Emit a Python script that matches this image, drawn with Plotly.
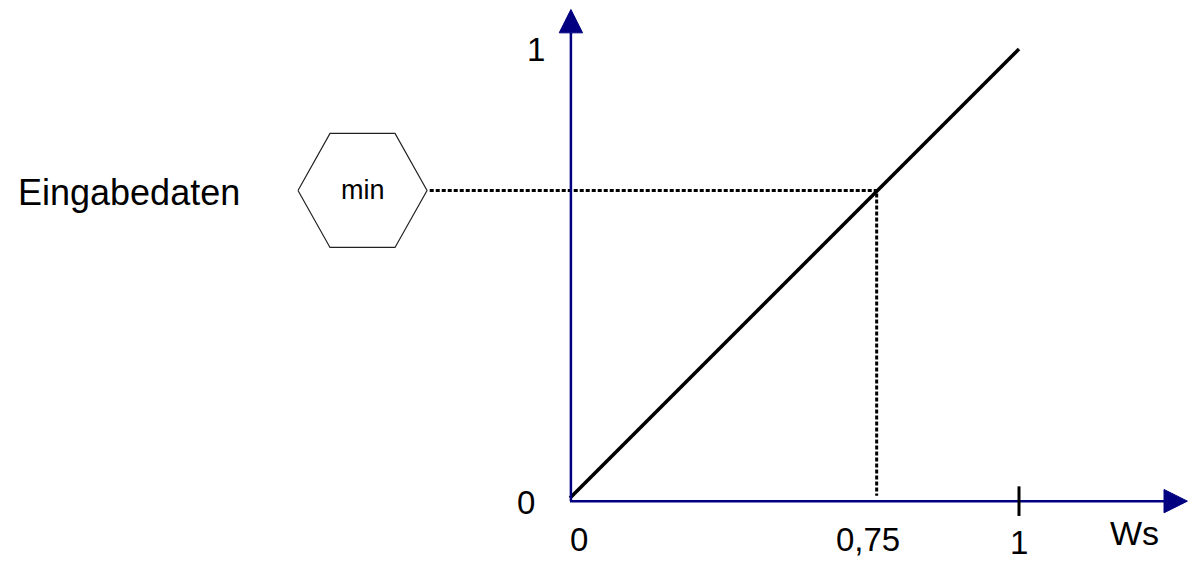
import plotly.graph_objects as go

# -- Data (unit square, schematic membership function) --
line_x = [0, 1]
line_y = [0, 1]

input_x = 0.683          # where the input level meets the line
input_y = 0.685

x_tick_vals = [0.02, 0.664, 1.0]
x_tick_text = ["0", "0,75", "1"]
x_tick_y = [-0.093, -0.093, -0.1]

y_tick_vals = [0.0, 1.0]
y_tick_text = ["0", "1"]
y_tick_x = [-0.098, -0.076]
y_tick_yoff = [-0.009, 0.0]

AXIS_COLOR = "#000080"
FONT = "Liberation Sans, Arial, sans-serif"

# -- Geometry of the drawing (data units, 449 px per unit) --
x_axis_y = -0.007
x_axis_end = 1.323
y_axis_end = 1.036
arrow_len = 0.052
arrow_half = 0.026

hex_cx, hex_cy = -0.4621, input_y
hex_rx, hex_tx, hex_ry = 0.1437, 0.0724, 0.127

fig = go.Figure()

# -- Hexagon "min" box --
hx = [hex_cx - hex_rx, hex_cx - hex_tx, hex_cx + hex_tx, hex_cx + hex_rx,
      hex_cx + hex_tx, hex_cx - hex_tx, hex_cx - hex_rx]
hy = [hex_cy, hex_cy + hex_ry, hex_cy + hex_ry, hex_cy,
      hex_cy - hex_ry, hex_cy - hex_ry, hex_cy]
fig.add_trace(go.Scatter(
    x=hx, y=hy, mode="lines", fill="toself", fillcolor="white",
    line=dict(color="#222222", width=1.2), hoverinfo="skip",
))

# -- Dotted guide lines --
fig.add_trace(go.Scatter(
    x=[hex_cx + hex_rx + 0.006, input_x, input_x],
    y=[input_y, input_y, 0.005],
    mode="lines", line=dict(color="black", width=3, dash="4px,2px"),
    hoverinfo="skip",
))

# -- Axes with arrowheads --
fig.add_shape(type="line", x0=0.002, y0=x_axis_y, x1=0.002, y1=y_axis_end,
              line=dict(color=AXIS_COLOR, width=2.5))
fig.add_shape(type="line", x0=0, y0=x_axis_y, x1=x_axis_end, y1=x_axis_y,
              line=dict(color=AXIS_COLOR, width=2.5))
fig.add_shape(
    type="path", fillcolor=AXIS_COLOR, line=dict(color=AXIS_COLOR, width=1),
    path=f"M {0.002 - arrow_half} {y_axis_end} L {0.002 + arrow_half} {y_axis_end} "
         f"L 0.002 {y_axis_end + arrow_len} Z",
)
fig.add_shape(
    type="path", fillcolor=AXIS_COLOR, line=dict(color=AXIS_COLOR, width=1),
    path=f"M {x_axis_end} {x_axis_y - arrow_half} L {x_axis_end} {x_axis_y + arrow_half} "
         f"L {x_axis_end + arrow_len} {x_axis_y} Z",
)
# tick mark at x = 1
fig.add_shape(type="line", x0=1.0, y0=x_axis_y - 0.033, x1=1.0, y1=x_axis_y + 0.033,
              line=dict(color="black", width=3))

# -- Main line --
fig.add_trace(go.Scatter(
    x=line_x, y=line_y, mode="lines",
    line=dict(color="black", width=3.5), hoverinfo="skip",
))

# -- Texts --
for xv, yv, t in zip(x_tick_vals, x_tick_y, x_tick_text):
    fig.add_annotation(x=xv, y=yv, text=t, showarrow=False, borderpad=0,
                       font=dict(family=FONT, size=33, color="black"))
for xv, yv, dy, t in zip(y_tick_x, y_tick_vals, y_tick_yoff, y_tick_text):
    fig.add_annotation(x=xv, y=yv + dy, text=t, showarrow=False,
                       font=dict(family=FONT, size=33, color="black"))

fig.add_annotation(x=1.258, y=-0.078, text="Ws", showarrow=False,
                   font=dict(family=FONT, size=34, color="black"))
fig.add_annotation(x=-0.983, y=input_y - 0.004, text="Eingabedaten", showarrow=False,
                   font=dict(family=FONT, size=36, color="black"))
fig.add_annotation(x=hex_cx, y=hex_cy, text="min", showarrow=False,
                   font=dict(family=FONT, size=27, color="black"))

fig.update_layout(
    width=1189, height=562,
    margin=dict(l=0, r=0, t=0, b=0),
    paper_bgcolor="white", plot_bgcolor="white",
    showlegend=False,
    xaxis=dict(range=[-570 / 449, 619 / 449], visible=False, fixedrange=True),
    yaxis=dict(range=[-64 / 449, 498 / 449], visible=False, fixedrange=True),
)

# drop the default 8px page margin so the figure sits at the window corner
fig.write_html(
    "out.html",
    config={"displayModeBar": False},
    post_script="document.body.style.margin='0';",
)
